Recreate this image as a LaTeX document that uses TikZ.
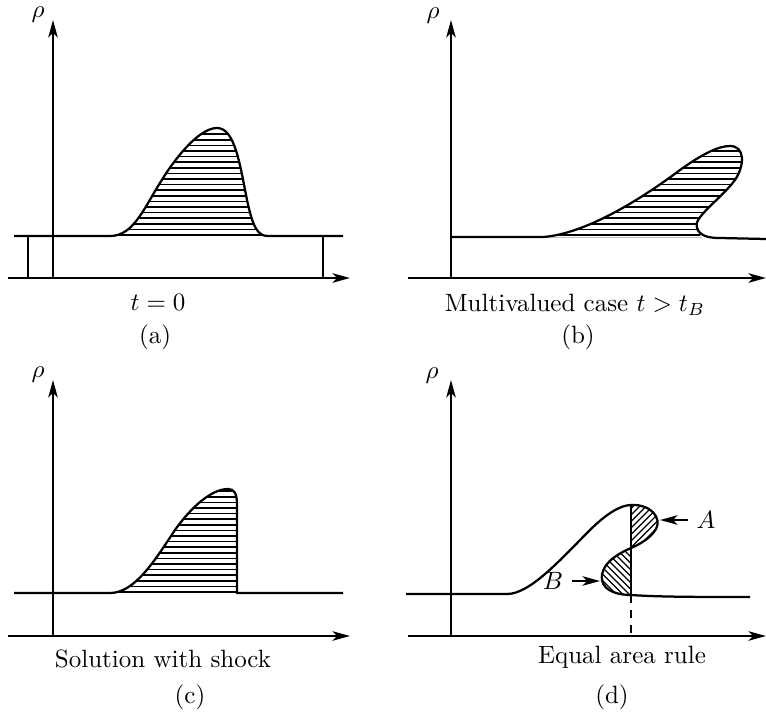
\documentclass[tikz,border=0pt]{standalone}
\usetikzlibrary{arrows.meta}

\begin{document}
\begin{tikzpicture}[
  x=0.4pt, y=-0.4pt,
  lbl/.style={font=\normalsize},
  ax/.style={-{Stealth[length=7pt,width=3.8pt,inset=1.8pt]}, line width=0.9pt},
  crv/.style={line width=0.9pt},
  hline/.style={line width=0.7pt},
  dline/.style={line width=0.55pt}
]
  \useasboundingbox (0,0) rectangle (766,720);

  % (a) initial profile
  \begin{scope}
    \clip (110,236) .. controls (135,236) and (145,205) .. (165,175)
      .. controls (178,155) and (200,128) .. (217,128)
      .. controls (235,128) and (240,165) .. (247,200)
      .. controls (253,228) and (258,236) .. (268,236) -- cycle;
    \foreach \yy in {235,229.4,...,120} \draw[hline] (100,\yy) -- (280,\yy);
  \end{scope}
  \draw[crv] (14,236) -- (110,236) .. controls (135,236) and (145,205) .. (165,175)
    .. controls (178,155) and (200,128) .. (217,128)
    .. controls (235,128) and (240,165) .. (247,200)
    .. controls (253,228) and (258,236) .. (268,236) -- (343,236);
  \draw[crv] (28,236) -- (28,278);
  \draw[crv] (323,236) -- (323,278);
  \draw[ax] (8,278) -- (350,278);
  \draw[ax] (53,278) -- (53,20);
  \node[lbl] (rhoa) at (38,15) {$\rho$};
  \node[lbl] (capa) at (158,302) {$t=0$};
  \node[lbl] (taga) at (155,337) {(a)};

  % (b) multivalued
  \draw[gray!50, thin] (543,237) -- (702,237);
  \begin{scope}
    \clip (543,237) .. controls (585,234) and (640,200) .. (680,170)
      .. controls (705,152) and (720,146) .. (730,146)
      .. controls (745,146) and (745,165) .. (735,180)
      .. controls (720,200) and (692,218) .. (697,228)
      -- (701,237) -- cycle;
    \foreach \yy in {235,229.4,...,140} \draw[hline] (540,\yy) -- (750,\yy);
  \end{scope}
  \draw[crv] (451,237) -- (543,237) .. controls (585,234) and (640,200) .. (680,170)
    .. controls (705,152) and (720,146) .. (730,146)
    .. controls (745,146) and (745,165) .. (735,180)
    .. controls (720,200) and (692,218) .. (697,228)
    .. controls (700,236) and (708,238) .. (720,238) -- (766,239);
  \draw[ax] (408,278) -- (766,278);
  \draw[ax] (451,278) -- (451,20);
  \node[lbl] (rhob) at (433,16) {$\rho$};
  \node[lbl] (capb) at (575,305) {Multivalued case $t>t_B$};
  \node[lbl] (tagb) at (578,337) {(b)};

  % (c) with shock
  \begin{scope}
    \clip (110,593) .. controls (135,593) and (155,560) .. (175,530)
      .. controls (192,506) and (212,489) .. (228,489)
      .. controls (234,489) and (237,493) .. (237,505) -- (237,593) -- cycle;
    \foreach \yy in {592,586.4,...,480} \draw[hline] (100,\yy) -- (250,\yy);
  \end{scope}
  \draw[crv] (14,593) -- (110,593) .. controls (135,593) and (155,560) .. (175,530)
    .. controls (192,506) and (212,489) .. (228,489)
    .. controls (234,489) and (237,493) .. (237,505) -- (237,593) -- (343,593);
  \draw[ax] (8,636) -- (350,636);
  \draw[ax] (53,636) -- (53,380);
  \node[lbl] (rhoc) at (38,375) {$\rho$};
  \node[lbl] (capc) at (163,659) {Solution with shock};
  \node[lbl] (tagc) at (190,697) {(c)};

  % (d) equal area rule
  \begin{scope}
    \clip (631,505) .. controls (651,504) and (662,518) .. (656,529)
      .. controls (650,539) and (638,545) .. (631,548) -- cycle;
    \foreach \xx in {560,566.5,...,690} \draw[dline] (\xx,560) -- ++(70,-70);
  \end{scope}
  \begin{scope}
    \clip (631,548) .. controls (615,555) and (600,565) .. (602,580)
      .. controls (604,592) and (620,595) .. (631,595) -- cycle;
    \foreach \xx in {580,586.5,...,710} \draw[dline] (\xx,610) -- ++(-70,-70);
  \end{scope}
  \draw[crv] (406,594) -- (507,594) .. controls (530,594) and (560,560) .. (590,530)
    .. controls (605,515) and (620,505) .. (631,505)
    .. controls (651,504) and (662,518) .. (656,529)
    .. controls (650,539) and (638,545) .. (631,548)
    .. controls (615,555) and (600,565) .. (602,580)
    .. controls (604,592) and (620,595) .. (631,595)
    .. controls (660,597) and (700,597) .. (750,597);
  \draw[crv] (631,505) -- (631,595);
  \draw[crv, dashed] (631,595) -- (631,636);
  \draw[ax] (408,636) -- (766,636);
  \draw[ax] (451,636) -- (451,380);
  \node[lbl] (rhod) at (432,376) {$\rho$};
  \node[lbl] (A) at (706,520) {$A$};
  \node[lbl] (B) at (553,581) {$B$};
  \coordinate (Atip) at (660,520);
  \coordinate (Btip) at (600,581);
  \draw[ax] (A.west) -- (Atip);
  \draw[ax] (B.east) -- (Btip);
  \node[lbl] (capd) at (622,657) {Equal area rule};
  \node[lbl] (tagd) at (612,697) {(d)};
\end{tikzpicture}
\end{document}
